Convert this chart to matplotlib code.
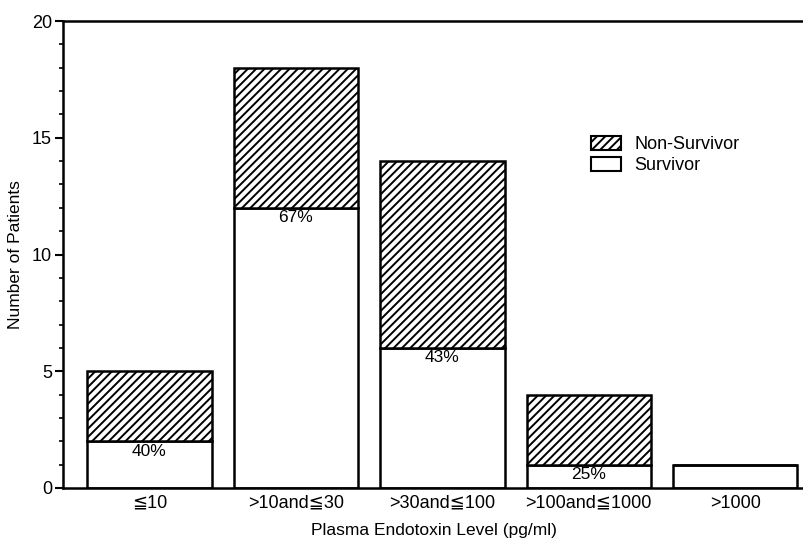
import matplotlib
matplotlib.use("Agg")
import matplotlib.pyplot as plt
from matplotlib.patches import Patch
from matplotlib.ticker import MultipleLocator

categories = ["≦10", ">10and≦30", ">30and≦100", ">100and≦1000", ">1000"]
survivor = [2, 12, 6, 1, 1]
non_survivor = [3, 6, 8, 3, 0]
pct_labels = ["40%", "67%", "43%", "25%", None]

plt.rcParams["font.family"] = ["Liberation Sans", "DejaVu Sans", "Noto Sans CJK JP"]
plt.rcParams["hatch.linewidth"] = 1.4

fig = plt.figure(figsize=(8.04, 5.43), dpi=100)
ax = fig.add_axes([0.0784, 0.1013, 0.9216, 0.86])

x = list(range(len(categories)))
w = 0.85
ax.bar(x, survivor, width=w, color="white", edgecolor="black", linewidth=1.8, zorder=2)
ax.bar(x, non_survivor, width=w, bottom=survivor, color="white", edgecolor="black",
       hatch="////", linewidth=1.8, zorder=2)

for xi, s, lab in zip(x, survivor, pct_labels):
    if lab:
        ax.text(xi, s - 0.1, lab, ha="center", va="top", fontsize=12.5, zorder=3)

ax.set_xlim(-0.59, 4.47)
ax.set_ylim(0, 20)
ax.set_xticks(x)
ax.set_xticklabels(categories, fontsize=13)
ax.set_yticks([0, 5, 10, 15, 20])
ax.yaxis.set_minor_locator(MultipleLocator(1))
ax.tick_params(axis="y", which="major", direction="out", length=6, width=1.5, labelsize=13, pad=2)
ax.tick_params(axis="y", which="minor", direction="out", length=3, width=1.2)
ax.tick_params(axis="x", length=0, pad=5)

ax.spines["right"].set_visible(False)
for s in ["left", "top", "bottom"]:
    ax.spines[s].set_linewidth(1.8)

ax.set_ylabel("Number of Patients", fontsize=12.5, labelpad=6)
ax.set_xlabel("Plasma Endotoxin Level (pg/ml)", fontsize=12.5, labelpad=8)

handles = [Patch(facecolor="white", edgecolor="black", hatch="////", linewidth=1.5, label="Non-Survivor"),
           Patch(facecolor="white", edgecolor="black", linewidth=1.5, label="Survivor")]
ax.legend(handles=handles, loc="upper left", bbox_to_anchor=(0.70, 0.773), frameon=False,
          fontsize=13, handlelength=1.7, handleheight=0.8, handletextpad=0.7,
          labelspacing=0.2, borderpad=0)

fig.savefig("out.png", dpi=100)
